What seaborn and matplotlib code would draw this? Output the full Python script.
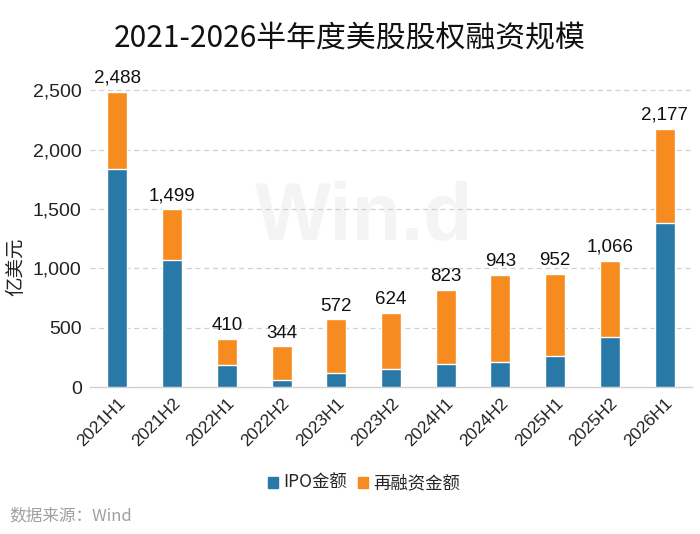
import matplotlib
matplotlib.use("Agg")
import matplotlib.pyplot as plt
from matplotlib.patches import Patch
import pandas as pd
import seaborn as sns

# data (亿美元)
periods = ["2021H1", "2021H2", "2022H1", "2022H2", "2023H1", "2023H2",
           "2024H1", "2024H2", "2025H1", "2025H2", "2026H1"]
total = [2488, 1499, 410, 344, 572, 624, 823, 943, 952, 1066, 2177]
ipo = [1833, 1071, 188, 59, 123, 154, 196, 216, 266, 426, 1382]
yticks = [0, 500, 1000, 1500, 2000, 2500]

BLUE = "#2878A8"
ORANGE = "#F68B1F"
CJK = ["Noto Sans CJK SC", "DejaVu Sans"]
LAT = ["Liberation Sans", "Noto Sans CJK SC", "DejaVu Sans"]

df = pd.DataFrame({"period": periods, "total": total, "ipo": ipo})

sns.set_theme(style="white")
plt.rcParams["font.family"] = LAT

fig = plt.figure(figsize=(7, 5.34), dpi=100)
ax = fig.add_axes([0.1286, 0.2747, 0.86, 0.612])

# watermark
ax.text(4.5, 1420, "Win.d", fontsize=58, fontweight="bold", color="#f4f4f4",
        ha="center", va="center", zorder=0)

# stacked bars: total in orange, IPO drawn over it in blue
sns.barplot(data=df, x="period", y="total", color=ORANGE, width=0.365,
            saturation=1, ax=ax, zorder=3)
sns.barplot(data=df, x="period", y="ipo", color=BLUE, width=0.365,
            saturation=1, ax=ax, zorder=4)

for i, v in enumerate(total):
    ax.text(i, v + 40, f"{v:,}", ha="center", va="bottom", fontsize=13.5,
            color="#111111", zorder=5)

ax.set_xlim(-0.5, len(periods) - 0.5)
ax.set_ylim(0, 2750)
ax.set_yticks(yticks)
ax.set_yticklabels([f"{t:,}" for t in yticks], fontsize=14, color="#222222")
ax.set_xticks(range(len(periods)))
ax.set_xticklabels(periods, rotation=45, ha="right", rotation_mode="anchor",
                   fontsize=12.5, color="#222222")
ax.tick_params(axis="both", length=0, pad=6)
ax.set_xlabel("")
ax.set_ylabel("亿美元", fontsize=14, family=CJK, color="#222222")
ax.yaxis.set_label_coords(-0.106, 0.37)

for y in yticks[1:]:
    ax.axhline(y, color="#d0d0d0", lw=0.9, ls=(0, (4, 3)), zorder=1)
for s in ["top", "right", "left"]:
    ax.spines[s].set_visible(False)
ax.spines["bottom"].set_color("#d0d0d0")
ax.spines["bottom"].set_linewidth(1.0)

fig.text(0.5, 0.928, "2021-2026半年度美股股权融资规模", ha="center", va="center",
         fontsize=21.5, family=CJK, color="#111111")

handles = [Patch(color=BLUE, label="IPO金额"), Patch(color=ORANGE, label="再融资金额")]
fig.legend(handles=handles, loc="center", bbox_to_anchor=(0.52, 0.095), ncol=2,
           frameon=False, handlelength=0.6, handleheight=0.6, handletextpad=0.3,
           columnspacing=0.6, prop={"family": CJK, "size": 12.5})

fig.text(0.014, 0.035, "数据来源：Wind", ha="left", va="center", fontsize=12,
         family=CJK, color="#a0a0a0")

fig.savefig("out.png", dpi=100)
